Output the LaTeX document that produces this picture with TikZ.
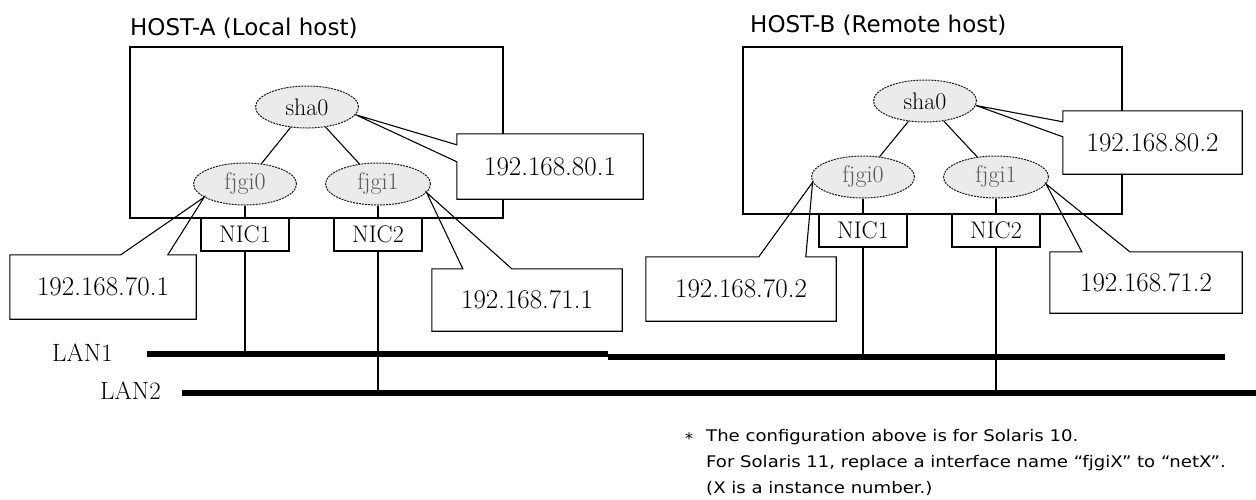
\documentclass[tikz,border=0pt]{standalone}
\usepackage{fontspec}
\newfontfamily\sansf{DejaVu Sans}
\usetikzlibrary{shapes.geometric,calc}
\tikzset{
  hostbox/.style={draw, line width=1.2pt, inner sep=0pt},
  hosttitle/.style={font=\sansf\fontsize{23}{23}\selectfont, anchor=base west, inner sep=0pt},
  ifc/.style={ellipse, draw=black!90, dash pattern=on 2pt off 1pt, line width=1pt, fill=black!8, minimum width=103pt, minimum height=42pt, inner sep=0pt, font=\fontsize{24}{24}\selectfont},
  nic/.style={draw, fill=white, line width=1.1pt, minimum width=88pt, minimum height=33pt, inner sep=0pt, font=\fontsize{24}{24}\selectfont},
  link/.style={line width=1.1pt},
  lan/.style={line width=6.5pt},
  ipbox/.style={fill=white, inner sep=0pt, font=\fontsize{27}{27}\selectfont},
  ipline/.style={line width=1.1pt, line join=miter},
  lanlabel/.style={anchor=west, inner sep=0pt, font=\fontsize{25}{25}\selectfont},
  note/.style={anchor=base west, inner sep=0pt, font=\sansf\fontsize{16}{16}\selectfont},
}
\begin{document}
\begin{tikzpicture}[x=1pt, y=-1pt]
\path[fill=white] (0,0) rectangle (1256,499);
\useasboundingbox (0,0) rectangle (1256,499);

% host boxes and titles
\node[hostbox, minimum width=373pt, minimum height=171pt] (hostA) at (316.5,132.5) {};
\node[hostbox, minimum width=379pt, minimum height=167pt] (hostB) at (932.5,130.5) {};
\node[hosttitle] (titleA) at (130,35) {HOST-A (Local host)};
\node[hosttitle] (titleB) at (750,32) {HOST-B (Remote host)};

% interfaces host A
\node[ifc] (sha0A) at (307,107) {sha0};
\node[ifc, text=black!65] (fjgi0A) at (245,184) {fjgi0};
\node[ifc, text=black!65, minimum width=105pt] (fjgi1A) at (378,184) {fjgi1};
% interfaces host B
\node[ifc] (sha0B) at (925,101) {sha0};
\node[ifc, text=black!65] (fjgi0B) at (863,177) {fjgi0};
\node[ifc, text=black!65, minimum width=105pt] (fjgi1B) at (996,177) {fjgi1};

\draw[link] (sha0A) -- (fjgi0A);
\draw[link] (sha0A) -- (fjgi1A);
\draw[link] (sha0B) -- (fjgi0B);
\draw[link] (sha0B) -- (fjgi1B);

% NICs
\node[nic] (nic1A) at (245,234.5) {NIC1};
\node[nic] (nic2A) at (378,234.5) {NIC2};
\node[nic] (nic1B) at (863,230.5) {NIC1};
\node[nic] (nic2B) at (996,230.5) {NIC2};

\draw[link] (fjgi0A) -- (nic1A);
\draw[link] (fjgi1A) -- (nic2A);
\draw[link] (fjgi0B) -- (nic1B);
\draw[link] (fjgi1B) -- (nic2B);

% LANs
\coordinate (lan1a) at (147,354);
\coordinate (lan1m) at (608,354);
\coordinate (lan1n) at (608,357);
\coordinate (lan1b) at (1225,357);
\coordinate (lan2a) at (182,393);
\coordinate (lan2b) at (1256,393);

\draw[link] (nic1A) -- (nic1A |- lan1a);
\draw[link] (nic2A) -- (nic2A |- lan2a);
\draw[link] (nic1B) -- (nic1B |- lan1b);
\draw[link] (nic2B) -- (nic2B |- lan2a);

\draw[lan] (lan1a) -- (lan1m);
\draw[lan] (lan1n) -- (lan1b);
\draw[lan] (lan2a) -- (lan2b);

\node[lanlabel] (lan1label) at (52,353) {LAN1};
\node[lanlabel] (lan2label) at (100,391) {LAN2};

% address callouts
\node[ipbox, minimum width=186pt, minimum height=65pt] (c801) at (550,166.5) {192.168.80.1};
\node[ipbox, minimum width=186pt, minimum height=64pt] (c701) at (103,287) {192.168.70.1};
\node[ipbox, minimum width=190pt, minimum height=62pt] (c711) at (527,300) {192.168.71.1};
\node[ipbox, minimum width=179pt, minimum height=63pt] (c802) at (1152.5,142.5) {192.168.80.2};
\node[ipbox, minimum width=190pt, minimum height=64pt] (c702) at (741,289) {192.168.70.2};
\node[ipbox, minimum width=192pt, minimum height=61pt] (c712) at (1146,282.5) {192.168.71.2};

\draw[ipline] (c801.north west) -- (c801.north east) -- (c801.south east) -- (c801.south west)
  -- ($(c801.north west)+(0,28)$) -- (sha0A.-9) -- ($(c801.north west)+(0,11)$) -- cycle;
\draw[ipline] (c802.north west) -- (c802.north east) -- (c802.south east) -- (c802.south west)
  -- ($(c802.north west)+(0,26)$) -- (sha0B.-5) -- ($(c802.north west)+(0,11)$) -- cycle;
\draw[ipline] (c701.north west) -- ($(c701.north west)+(111,0)$) -- (fjgi0A.198)
  -- ($(c701.north west)+(158,0)$) -- (c701.north east) -- (c701.south east) -- (c701.south west) -- cycle;
\draw[ipline] (c711.north west) -- ($(c711.north west)+(31,0)$) -- (fjgi1A.-10)
  -- ($(c711.north west)+(80,0)$) -- (c711.north east) -- (c711.south east) -- (c711.south west) -- cycle;
\draw[ipline] (c702.north west) -- ($(c702.north west)+(113,0)$) -- (fjgi0B.186)
  -- ($(c702.north west)+(160,0)$) -- (c702.north east) -- (c702.south east) -- (c702.south west) -- cycle;
\draw[ipline] (c712.north west) -- ($(c712.north west)+(32,0)$) -- (fjgi1B.-8)
  -- ($(c712.north west)+(80,0)$) -- (c712.north east) -- (c712.south east) -- (c712.south west) -- cycle;

% footnote
\node[note] (star) at (685,444) {*};
\node[note] (note1) at (706,441) {\scalebox{1.13}[1]{The configuration above is for Solaris 10.}};
\node[note] (note2) at (706,467) {\scalebox{1.13}[1]{For Solaris 11, replace a interface name “fjgiX” to “netX”.}};
\node[note] (note3) at (706,493) {\scalebox{1.13}[1]{(X is a instance number.)}};
\end{tikzpicture}
\end{document}
